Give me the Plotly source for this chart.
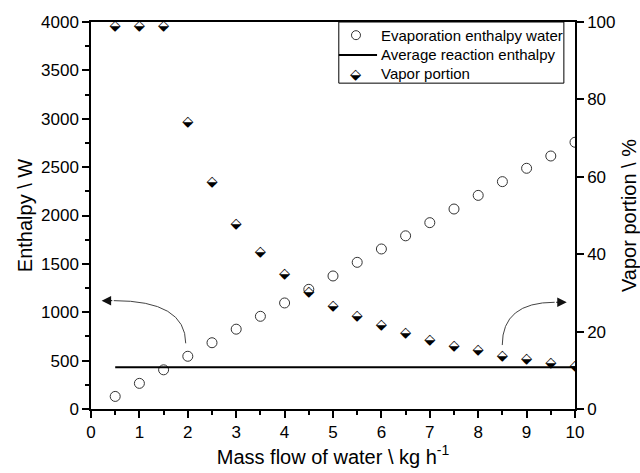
import plotly.graph_objects as go

# ---------------- data ----------------
flow = [0.5, 1.0, 1.5, 2.0, 2.5, 3.0, 3.5, 4.0, 4.5, 5.0,
        5.5, 6.0, 6.5, 7.0, 7.5, 8.0, 8.5, 9.0, 9.5, 10.0]
evap_enthalpy = [130, 265, 405, 545, 685, 825, 958, 1096, 1237, 1375,
                 1516, 1654, 1790, 1926, 2067, 2208, 2350, 2488, 2615, 2757]
reaction_flow = [0.5, 10.0]
reaction_enthalpy = [431, 431]
vapor_portion = [99, 99, 99, 74.0, 58.5, 47.7, 40.4, 34.7, 30.2, 26.6,
                 23.9, 21.5, 19.6, 17.8, 16.1, 15.1, 13.7, 12.7, 11.8, 10.9]

legend_labels = ["Evaporation enthalpy water", "Average reaction enthalpy", "Vapor portion"]
x_title = "Mass flow of water \\ kg h<sup>-1</sup>"
y_title = "Enthalpy \\ W"
y2_title = "Vapor portion \\ %"

# curved pointer arrows (start, control, tip) in data units of x / left axis
left_arrow = dict(start=(1.957, 679), ctrl=(1.957, 1120), tip=(0.22, 1120))
right_arrow = dict(start=(8.497, 661), ctrl=(8.497, 1103), tip=(9.83, 1103))

FONT = "Liberation Sans, Arial, sans-serif"
DIAMOND = "\u2B19"

fig = go.Figure()

fig.add_trace(go.Scatter(
    x=flow, y=evap_enthalpy, mode="markers", name=legend_labels[0],
    marker=dict(symbol="circle-open", size=10, color="#333333", line=dict(width=1)),
    showlegend=False))

fig.add_trace(go.Scatter(
    x=reaction_flow, y=reaction_enthalpy, mode="lines", name=legend_labels[1],
    line=dict(color="black", width=2), showlegend=False))

fig.add_trace(go.Scatter(
    x=flow, y=vapor_portion, mode="text", name=legend_labels[2], yaxis="y2",
    text=[DIAMOND] * len(flow), textposition="middle center",
    textfont=dict(family="DejaVu Sans", size=14.5, color="black"),
    showlegend=False))

shapes = []
annotations = []
for arr in (left_arrow, right_arrow):
    (sx, sy), (cx, cy), (tx, ty) = arr["start"], arr["ctrl"], arr["tip"]
    direction = 1 if tx < cx else -1
    tail = tx + direction * 0.25
    shapes.append(dict(type="path", xref="x", yref="y",
                       path=f"M {sx},{sy} Q {cx},{cy} {tail},{ty}",
                       line=dict(color="#444444", width=1)))
    annotations.append(dict(x=tx, y=ty, ax=tail, ay=ty, xref="x", yref="y",
                            axref="x", ayref="y", text="", showarrow=True,
                            arrowhead=2, arrowsize=1.9, arrowwidth=1,
                            arrowcolor="#111111"))

# manual legend
lx0, lx1, ly0, ly1 = 0.512, 0.977, 0.842, 1.0
shapes.append(dict(type="rect", xref="paper", yref="paper", x0=lx0, x1=lx1, y0=ly0, y1=ly1,
                   line=dict(color="black", width=1), fillcolor="white", layer="above"))
row_y = [0.966, 0.915, 0.866]
sym_x = 0.5475
text_x = 0.595
shapes.append(dict(type="circle", xref="paper", yref="paper", xsizemode="pixel", ysizemode="pixel",
                   xanchor=sym_x, yanchor=row_y[0], x0=-4.5, x1=4.5, y0=-4.5, y1=4.5,
                   line=dict(color="#333333", width=1), layer="above"))
shapes.append(dict(type="line", xref="paper", yref="paper", x0=lx0, x1=0.591,
                   y0=row_y[1], y1=row_y[1], line=dict(color="black", width=2), layer="above"))
annotations.append(dict(x=sym_x, y=row_y[2], xref="paper", yref="paper", text=DIAMOND,
                        showarrow=False, xanchor="center", yanchor="middle",
                        font=dict(family="DejaVu Sans", size=14.5, color="black")))
for lab, yy in zip(legend_labels, row_y):
    annotations.append(dict(x=text_x, y=yy, xref="paper", yref="paper", text=lab,
                            showarrow=False, xanchor="left", yanchor="middle",
                            font=dict(family=FONT, size=15, color="black")))

axis_common = dict(showline=True, linecolor="black", linewidth=1.5, ticks="outside",
                   tickcolor="black", tickwidth=1.5, ticklen=7, showgrid=False,
                   zeroline=False, automargin=False,
                   tickfont=dict(family=FONT, size=17, color="black"))

fig.update_layout(
    width=640, height=473,
    margin=dict(l=91, r=65, t=22, b=64),
    paper_bgcolor="white", plot_bgcolor="white",
    font=dict(family=FONT, color="black"),
    xaxis=dict(range=[0, 10], dtick=1, mirror=True,
               minor=dict(ticks="outside", dtick=0.5, ticklen=4, tickcolor="black", tickwidth=1.5),
               title=dict(text=x_title, font=dict(family=FONT, size=20), standoff=0),
               **axis_common),
    yaxis=dict(range=[0, 4000], dtick=500,
               minor=dict(ticks="outside", dtick=250, ticklen=4, tickcolor="black", tickwidth=1.5),
               title=dict(text=y_title, font=dict(family=FONT, size=20), standoff=3),
               **axis_common),
    yaxis2=dict(range=[0, 100], dtick=20, overlaying="y", side="right",
                title=dict(text=y2_title, font=dict(family=FONT, size=20), standoff=10),
                **axis_common),
    shapes=shapes, annotations=annotations,
)

fig.write_html("out.html", config={"displayModeBar": False},
               post_script="document.body.style.margin='0';document.body.style.padding='0';"
                           "document.body.style.overflow='hidden';")
